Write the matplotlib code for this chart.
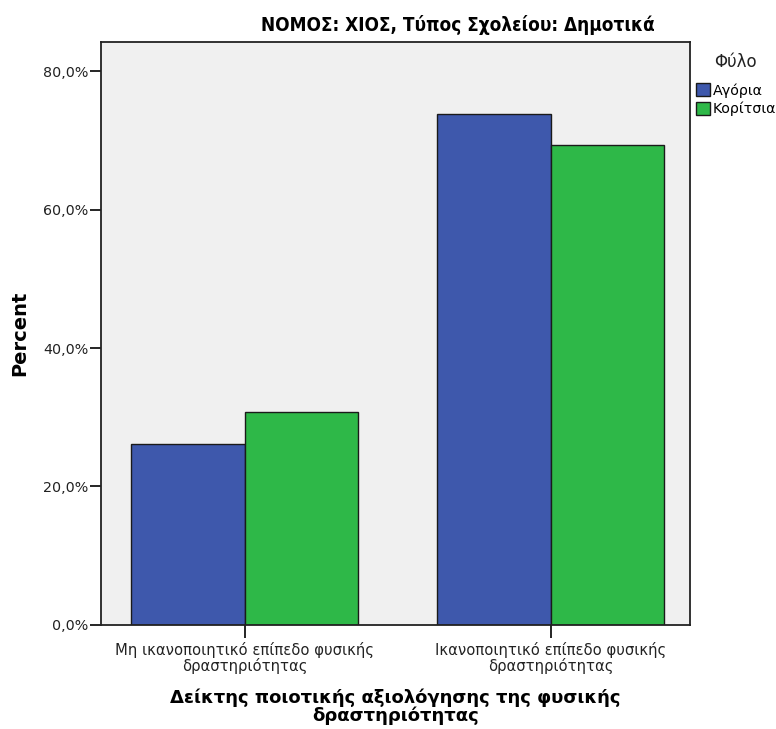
import numpy as np
import matplotlib.pyplot as plt
from matplotlib.ticker import FuncFormatter

categories = ["Μη ικανοποιητικό επίπεδο φυσικής\nδραστηριότητας",
              "Ικανοποιητικό επίπεδο φυσικής\nδραστηριότητας"]
boys = [26.2, 73.8]
girls = [30.7, 69.3]
series_names = ["Αγόρια", "Κορίτσια"]

plt.rcParams['font.family'] = ['DejaVu Sans']

fig = plt.figure(figsize=(7.76, 7.29), dpi=100)
ax = fig.add_axes([0.130, 0.1427, 0.759, 0.7997])
ax.set_facecolor('#F0F0F0')

x = np.arange(len(categories))
w = 0.37
ax.bar(x - w / 2, boys, w, color='#3E58AC', edgecolor='#1a1a1a', linewidth=1.0, label=series_names[0])
ax.bar(x + w / 2, girls, w, color='#2EB848', edgecolor='#1a1a1a', linewidth=1.0, label=series_names[1])

ax.set_xlim(-0.47, 1.455)
ax.set_ylim(0, 84.2)
ax.set_yticks([0, 20, 40, 60, 80])
ax.yaxis.set_major_formatter(FuncFormatter(lambda v, p: f"{v:.1f}%".replace('.', ',')))
ax.set_xticks(x)
ax.set_xticklabels(categories, fontsize=10.6, color='#222222', linespacing=1.0)
ax.tick_params(axis='y', labelsize=10.3, labelcolor='#222222', length=8, width=1.2, pad=1)
ax.tick_params(axis='x', length=9, width=1.2, pad=3)
for s in ax.spines.values():
    s.set_linewidth(1.3)
    s.set_color('#222222')

ax.set_ylabel("Percent", fontsize=14, fontweight='bold', labelpad=10)
ax.set_xlabel("Δείκτης ποιοτικής αξιολόγησης της φυσικής\nδραστηριότητας",
              fontsize=13, fontweight='bold', linespacing=0.95, labelpad=11)

fig.text(458 / 776, 1 - 25 / 729, "ΝΟΜΟΣ: ΧΙΟΣ, Τύπος Σχολείου: Δημοτικά",
         ha='center', va='center', fontsize=13.6, fontweight='bold',
         family=['DejaVu Sans'], stretch='condensed')

fig.text(735 / 776, 1 - 62 / 729, "Φύλο", ha='center', va='center', fontsize=12, color='#222222')
leg = ax.legend(loc='upper left', bbox_to_anchor=(696 / 776, 1 - 83 / 729),
                bbox_transform=fig.transFigure,
                frameon=False, fontsize=10.3,
                handlelength=0.95, handleheight=0.95, handletextpad=0.2,
                labelspacing=0.3, borderpad=0, borderaxespad=0)

fig.savefig('out.png', dpi=100)
